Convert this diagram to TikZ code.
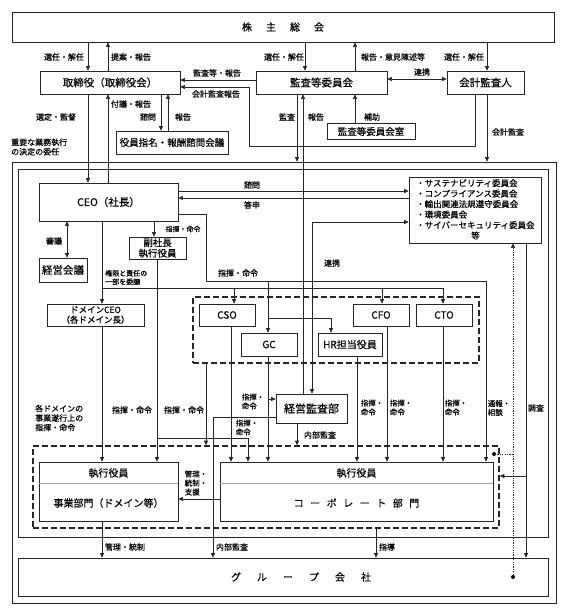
\documentclass[tikz,border=0pt]{standalone}
\usepackage{fontspec}
\setmainfont{Noto Sans CJK JP}[RawFeature={embolden=0.5}]
\usetikzlibrary{arrows.meta}
\begin{document}
\begin{tikzpicture}[x=1pt,y=-1pt,
 >={Triangle[length=4.5pt,width=4pt]},
 box/.style={draw=black!85, line width=0.7pt, fill=white, inner sep=0pt, font=\fontsize{10}{12}\selectfont, align=center},
 frame/.style={draw=black!85, line width=0.7pt, inner sep=0pt},
 grpbox/.style={draw=black!85, line width=1.6pt, dash pattern=on 6pt off 3pt, inner sep=0pt},
 lbl/.style={font=\fontsize{8}{9.5}\selectfont, inner sep=0pt, align=center},
 slbl/.style={font=\fontsize{7}{8.5}\selectfont, inner sep=0pt, align=left},
 tlbl/.style={font=\fontsize{7.5}{9}\selectfont, inner sep=0pt, align=left},
 conn/.style={draw=black!85, line width=0.6pt},
 dotln/.style={draw=black!85, line width=0.6pt, dash pattern=on 1.2pt off 1.2pt},
 dotnode/.style={circle, fill=black, inner sep=0pt, minimum size=4pt}
]
\useasboundingbox (0,0) rectangle (567,616);
% frames
\node[frame, minimum width=544, minimum height=441] (outer) at (284,382.5) {};
\node[frame, minimum width=530, minimum height=368] (inner) at (283,353) {};
\node[grpbox, minimum width=286, minimum height=66] (cxo) at (336,330) {};
\node[grpbox, minimum width=466, minimum height=82] (low) at (266,487) {};

% boxes
\node[box, minimum width=542, minimum height=30] (sh) at (283,27) {株\hspace{14pt}主\hspace{14pt}総\hspace{14pt}会};
\node[box, minimum width=140, minimum height=23, font=\fontsize{10.5}{12}\selectfont] (bod) at (110,82.5) {取締役（取締役会）};
\node[box, minimum width=131, minimum height=23, font=\fontsize{10.5}{12}\selectfont] (ac) at (321.5,82.5) {監査等委員会};
\node[box, minimum width=77, minimum height=23, font=\fontsize{10.5}{12}\selectfont] (aud) at (485.5,82.5) {会計監査人};
\node[box, minimum width=112, minimum height=23, font=\fontsize{9.5}{11}\selectfont] (nom) at (172,142.5) {役員指名・報酬諮問会議};
\node[box, minimum width=88, minimum height=16, font=\fontsize{9.5}{11}\selectfont] (acr) at (371,131.5) {監査等委員会室};
\node[box, minimum width=139, minimum height=38, font=\fontsize{10.5}{12}\selectfont] (ceo) at (108.5,202) {CEO（社長）};
\node[box, minimum width=132, minimum height=66] (com) at (475,210) {};
\node[font=\fontsize{8.5}{10.5}\selectfont, align=left, anchor=north west, inner sep=0pt] (comtxt) at (416,179) {・サステナビリティ委員会\\・コンプライアンス委員会\\・輸出関連法規遵守委員会\\・環境委員会\\・サイバーセキュリティ委員会\\\hspace*{55pt}等};
\node[box, minimum width=57, minimum height=22, font=\fontsize{9.5}{10.5}\selectfont] (vp) at (157.5,248) {副社長\\執行役員};
\node[box, minimum width=48, minimum height=24, font=\fontsize{10.5}{12}\selectfont] (mc) at (63,270) {経営会議};
\node[box, minimum width=97, minimum height=22, font=\fontsize{8.5}{10}\selectfont] (dceo) at (95.5,315) {ドメインCEO\\（各ドメイン長）};
\node[box, minimum width=56, minimum height=22] (cso) at (227,315) {CSO};
\node[box, minimum width=56, minimum height=22] (cfo) at (381,315) {CFO};
\node[box, minimum width=56, minimum height=22] (cto) at (444,315) {CTO};
\node[box, minimum width=56, minimum height=23] (gc) at (269,344.5) {GC};
\node[box, minimum width=64, minimum height=23] (hr) at (350,344.5) {HR担当役員};
\node[box, minimum width=71, minimum height=29, font=\fontsize{11}{12}\selectfont] (ia) at (311.5,408.5) {経営監査部};
\node[box, minimum width=139, minimum height=59] (bus) at (108.5,491.5) {};
\node[box, minimum width=273, minimum height=59] (corp) at (356.5,491.5) {};
\node[box, minimum width=530, minimum height=38] (grp) at (283,577) {};
\draw[black!35, line width=0.6pt] (bus.west |- 0,483) -- (bus.east |- 0,483);
\draw[black!35, line width=0.6pt] (corp.west |- 0,483) -- (corp.east |- 0,483);
\node[font=\fontsize{10}{12}\selectfont] (bust) at (108.5,473) {執行役員};
\node[font=\fontsize{10}{12}\selectfont] (busb) at (108.5,503) {事業部門（ドメイン等）};
\node[font=\fontsize{10}{12}\selectfont] (corpt) at (356.5,473) {執行役員};
\node[font=\fontsize{10}{12}\selectfont] (corpb) at (356.5,503) {コ\hspace{6.5pt}ー\hspace{6.5pt}ポ\hspace{6.5pt}レ\hspace{6.5pt}ー\hspace{6.5pt}ト\hspace{6.5pt}部\hspace{6.5pt}門};
\node[font=\fontsize{10}{12}\selectfont] (grpt) at (301,577) {グ\hspace{16pt}ル\hspace{16pt}ー\hspace{16pt}プ\hspace{16pt}会\hspace{16pt}社};
\node[dotnode] (d1) at (513,577) {};
\node[dotnode] (d2) at (494,454) {};

% connectors top
\draw[conn,->] (88,0 |- sh.south) -- (88,0 |- bod.north);
\draw[conn,->] (108,0 |- bod.north) -- (108,0 |- sh.south);
\draw[conn,->] (305,0 |- sh.south) -- (305,0 |- ac.north);
\draw[conn,->] (355,0 |- ac.north) -- (355,0 |- sh.south);
\draw[conn,->] (487,0 |- sh.south) -- (487,0 |- aud.north);
\draw[conn,->] (ac.west |- 0,80) -- (bod.east |- 0,80);
\draw[conn,<->] (ac.east |- 0,79) -- (aud.west |- 0,79);
\draw[conn,->] (475,0 |- aud.south) -- (475,146) -- (249,146) -- (249,87) -- (bod.east |- 0,87);
\draw[conn,->] (487,0 |- aud.south) -- (487,0 |- outer.north);
\draw[conn,->] (88,0 |- bod.south) -- (88,0 |- ceo.north);
\draw[conn,->] (108,0 |- ceo.north) -- (108,0 |- bod.south);
\draw[conn,->] (161,0 |- bod.south) -- (161,0 |- nom.north);
\draw[conn,->] (168,0 |- nom.north) -- (168,0 |- bod.south);
\draw[conn,->] (297,0 |- ac.south) -- (297,0 |- outer.north);
\draw[conn,->] (303,0 |- ia.north) -- (303,0 |- ac.south);
\draw[conn,->] (355,0 |- acr.north) -- (355,0 |- ac.south);
\draw[conn,<->] (312,0 |- ia.north) -- (312,222) -- (com.west |- 0,222);
% CEO area
\draw[conn,->] (ceo.east |- 0,191) -- (com.west |- 0,191);
\draw[conn,->] (com.west |- 0,198) -- (ceo.east |- 0,198);
\draw[conn,<->] (67,0 |- ceo.south) -- (67,0 |- mc.north);
\draw[conn,->] (154,0 |- ceo.south) -- (154,0 |- vp.north);
\draw[conn,->] (102,0 |- ceo.south) -- (102,0 |- dceo.north);
\draw[conn] (102,288) -- (443,288);
\draw[conn,->] (234,288) -- (234,0 |- cso.north);
\draw[conn,->] (382,288) -- (382,0 |- cfo.north);
\draw[conn,->] (443,288) -- (443,0 |- cto.north);
\draw[conn,->] (ceo.east |- 0,214) -- (206,214) -- (206,281) -- (486,281) -- (486,0 |- corp.north);
\draw[conn,->] (268,281) -- (268,0 |- gc.north);
\draw[conn,->] (268,318) -- (331,318) -- (331,0 |- hr.north);
% lower
\draw[conn,->] (102,0 |- dceo.south) -- (102,0 |- bus.north);
\draw[conn,->] (157,0 |- vp.south) -- (157,0 |- bus.north);
\draw[conn,->] (157,438) -- (248,438) -- (248,0 |- corp.north);
\draw[conn,->] (231,0 |- cso.south) -- (231,0 |- corp.north);
\draw[conn,->] (268,0 |- gc.south) -- (268,0 |- corp.north);
\draw[conn,->] (268,399) -- (ia.west |- 0,399);
\draw[conn,->] (357,0 |- hr.south) -- (357,0 |- corp.north);
\draw[conn,->] (387,0 |- cfo.south) -- (387,0 |- corp.north);
\draw[conn,->] (443,0 |- cto.south) -- (443,0 |- corp.north);
\draw[conn,->] (206,0 |- cxo.south) -- (206,0 |- low.north);
\draw[conn,->] (297,0 |- ia.south) -- (297,0 |- low.north);
\draw[conn,->] (ia.west |- 0,417) -- (213,417) -- (213,0 |- grp.north);
\draw[conn,->] (corp.west |- 0,499) -- (bus.east |- 0,499);
\draw[conn,->] (102,0 |- bus.south) -- (102,0 |- grp.north);
\draw[conn,->] (376,0 |- low.south) -- (376,0 |- grp.north);
\draw[conn,->] (526,0 |- com.south) -- (526,0 |- grp.north);
\draw[conn,->] (526,476) -- (low.east |- 0,476);
\draw[dotln,->] (d1) -- (513,0 |- com.south);
\draw[dotln] (513,454) -- (d2);

% labels
\node[lbl] (t1) at (64,57) {選任・解任};
\node[lbl] (t2) at (131,57) {提案・報告};
\node[lbl] (t3) at (284,57) {選任・解任};
\node[lbl] (t4) at (393,57) {報告・意見陳述等};
\node[lbl] (t5) at (464,57) {選任・解任};
\node[lbl] (t6) at (217,73) {監査等・報告};
\node[lbl] (t7) at (216,94) {会計監査報告};
\node[lbl] (t8) at (422,72) {連携};
\node[lbl] (t9) at (56,117) {選定・監督};
\node[lbl, align=left, anchor=west] (t10) at (11,147) {重要な業務執行\\の決定の委任};
\node[lbl] (t11) at (131,104) {付議・報告};
\node[lbl] (t12) at (148,117) {諮問};
\node[lbl] (t13) at (183,117) {報告};
\node[lbl] (t14) at (287,117) {監査};
\node[lbl] (t15) at (316,117) {報告};
\node[lbl] (t16) at (372,117) {補助};
\node[lbl] (t17) at (508,132) {会計監査};
\node[lbl] (t18) at (252,185) {諮問};
\node[lbl] (t19) at (252,205) {答申};
\node[lbl] (t20) at (54,241) {審議};
\node[slbl] (t21) at (183,229) {指揮・命令};
\node[lbl] (t22) at (238,273) {指揮・命令};
\node[slbl, anchor=west] (t23) at (105,277.5) {権限と責任の\\一部を委譲};
\node[lbl] (t24) at (332,263) {連携};
\node[lbl, align=left, anchor=west] (t25) at (35,418) {各ドメインの\\事業遂行上の\\指揮・命令};
\node[lbl] (t26) at (132,410) {指揮・命令};
\node[lbl] (t27) at (184,410) {指揮・命令};
\node[tlbl] (t28) at (253,401.5) {指揮・\\命令};
\node[tlbl] (t29) at (247,427.5) {指揮・\\命令};
\node[tlbl] (t30) at (372,407.5) {指揮・\\命令};
\node[tlbl] (t31) at (401,407.5) {指揮・\\命令};
\node[tlbl] (t32) at (456,407.5) {指揮・\\命令};
\node[tlbl] (t33) at (499,408) {通報・\\相談};
\node[lbl] (t34) at (536,408) {調査};
\node[lbl] (t35) at (320,435) {内部監査};
\node[tlbl] (t36) at (196,483) {管理・\\統制・\\支援};
\node[lbl] (t37) at (125,547) {管理・統制};
\node[lbl] (t38) at (232,547) {内部監査};
\node[lbl] (t39) at (387,547) {指導};
\end{tikzpicture}
\end{document}
